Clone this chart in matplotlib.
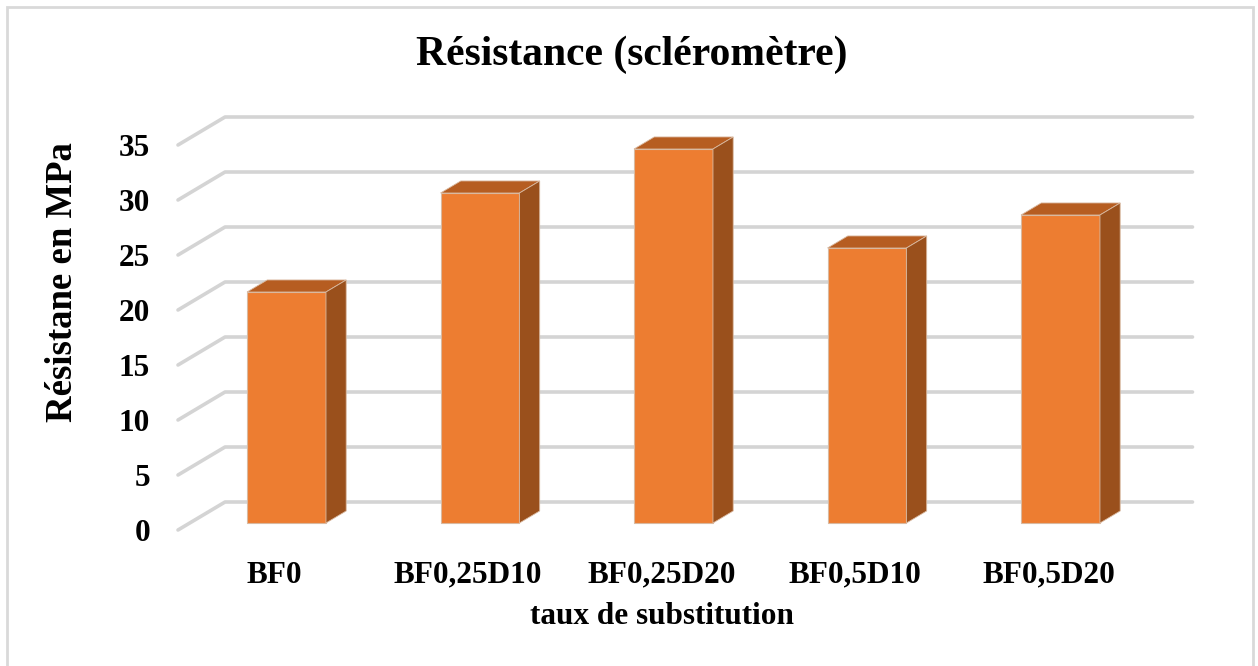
import matplotlib.pyplot as plt
from matplotlib.patches import Polygon, Rectangle

# data
categories = ['BF0', 'BF0,25D10', 'BF0,25D20', 'BF0,5D10', 'BF0,5D20']
resistance = [21, 30, 34, 25, 28]
yticks = [0, 5, 10, 15, 20, 25, 30, 35]

title = 'Résistance (scléromètre)'
xlabel = 'taux de substitution'
ylabel = 'Résistane en MPa'

# colours of the excel 3d column
c_front = '#ED7D31'
c_top = '#B65D21'
c_side = '#9A501C'
c_grid = '#D4D4D4'

plt.rcParams['font.family'] = ['Liberation Serif', 'DejaVu Serif']
plt.rcParams['font.weight'] = 'bold'

W, H = 1258, 666
fig = plt.figure(figsize=(W / 100, H / 100), dpi=100)

# plot area in pixels (front plane)
px_left, px_right = 178, 1192.5
px_bottom, px_top = 530, 112
ax = fig.add_axes([px_left / W, 1 - px_bottom / H,
                   (px_right - px_left) / W, (px_bottom - px_top) / H])

n = len(categories)
DX = 0.243      # depth offset in category units
DY = 2.545      # depth offset in value units
d0, d1 = 0.25, 0.68   # bar depth (front, back)
bw = 0.408

ax.set_xlim(-0.5, n - 0.5 + DX)
ax.set_ylim(0, 38)
for s in ax.spines.values():
    s.set_visible(False)

# back wall gridlines + floor diagonals
for v in yticks:
    ax.plot([-0.5, -0.5 + DX, n - 0.5 + DX], [v, v + DY, v + DY],
            color=c_grid, lw=2.6, solid_capstyle='round', zorder=1, clip_on=False)

# 3d bars
for i, v in enumerate(resistance):
    xl = i - bw / 2 + d0 * DX
    xr = i + bw / 2 + d0 * DX
    yb = d0 * DY
    yt = v + d0 * DY
    ddx = (d1 - d0) * DX
    ddy = (d1 - d0) * DY
    ax.add_patch(Rectangle((xl, yb), xr - xl, yt - yb, facecolor=c_front,
                           edgecolor='#D9B9A0', lw=0.8, zorder=3))
    ax.add_patch(Polygon([(xl, yt), (xr, yt), (xr + ddx, yt + ddy), (xl + ddx, yt + ddy)],
                         closed=True, facecolor=c_top, edgecolor='#D9B9A0', lw=0.6, zorder=3))
    ax.add_patch(Polygon([(xr, yb), (xr, yt), (xr + ddx, yt + ddy), (xr + ddx, yb + ddy)],
                         closed=True, facecolor=c_side, edgecolor='#D9B9A0', lw=0.6, zorder=3))

ax.set_yticks(yticks)
ax.set_yticklabels([str(t) for t in yticks], fontsize=22.5, fontweight='bold')
ax.set_xticks(range(n))
ax.set_xticklabels(categories, fontsize=22.5, fontweight='bold')
ax.tick_params(axis='y', length=0, pad=20)
ax.tick_params(axis='x', length=0, pad=22)

fig.text(632 / W, 1 - 55 / H, title, ha='center', va='center',
         fontsize=30, fontweight='bold')
fig.text(662 / W, 1 - 616 / H, xlabel, ha='center', va='center',
         fontsize=22.5, fontweight='bold')
fig.text(62 / W, 1 - 282 / H, ylabel, ha='center', va='center',
         rotation=90, fontsize=26.5, fontweight='bold')

# chart frame
fig.patches.append(Rectangle((7 / W, -0.01), (1253 - 7) / W, 1 - 7 / H + 0.01,
                             transform=fig.transFigure, fill=False,
                             edgecolor='#D9D9D9', lw=2))

fig.savefig('out.png', dpi=100)
